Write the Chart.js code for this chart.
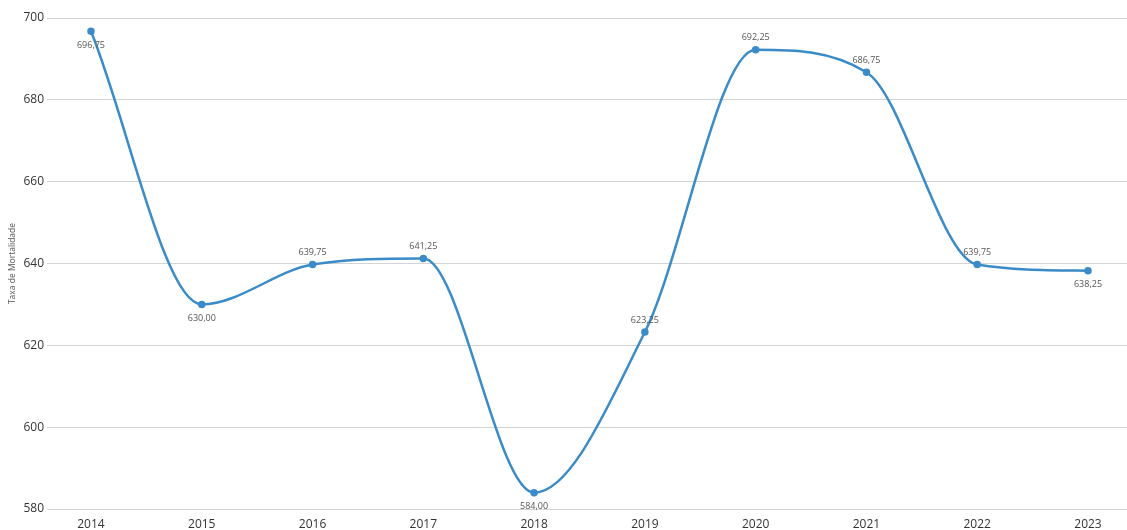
<!DOCTYPE html>
<html>
<head>
<meta charset="utf-8">
<script src="https://cdn.jsdelivr.net/npm/chart.js@4/dist/chart.umd.min.js"></script>
<style>
html,body{margin:0;padding:0;background:#fff;}
canvas{display:block;}
</style>
</head>
<body>
<canvas id="c" width="1127" height="530"></canvas>
<script>
const years = [2014, 2015, 2016, 2017, 2018, 2019, 2020, 2021, 2022, 2023];
const values = [696.75, 630.00, 639.75, 641.25, 584.00, 623.25, 692.25, 686.75, 639.75, 638.25];
const yTicks = [580, 600, 620, 640, 660, 680, 700];
const yTitle = 'Taxa de Mortalidade';

const fmt = v => v.toFixed(2).replace('.', ',');

const labelPlugin = {
  id: 'pointLabels',
  afterDatasetsDraw(chart) {
    const ctx = chart.ctx;
    const meta = chart.getDatasetMeta(0);
    ctx.save();
    ctx.font = '9px "Open Sans", sans-serif';
    ctx.fillStyle = '#555';
    ctx.textAlign = 'center';
    ctx.textBaseline = 'middle';
    meta.data.forEach((pt, i) => {
      const v = values[i];
      const first = i === 0, last = i === values.length - 1;
      const localMin = !first && !last && v < values[i - 1] && v < values[i + 1];
      const below = first || last || localMin;
      ctx.fillText(fmt(v), pt.x, pt.y + (below ? 14 : -12));
    });
    ctx.restore();
  }
};

new Chart(document.getElementById('c'), {
  type: 'line',
  data: {
    datasets: [{
      data: years.map((y, i) => ({x: y, y: values[i]})),
      borderColor: '#3a8bc8',
      backgroundColor: '#3a8bc8',
      borderWidth: 2.5,
      cubicInterpolationMode: 'monotone',
      pointRadius: 2.5,
      pointHoverRadius: 2.5,
      fill: false
    }]
  },
  options: {
    responsive: false,
    animation: false,
    layout: {autoPadding: false, padding: {top: 18, right: 0, bottom: 0, left: 0}},
    plugins: {legend: {display: false}, tooltip: {enabled: false}},
    scales: {
      x: {
        type: 'linear',
        min: 2013.603,
        max: 2023.352,
        afterBuildTicks: s => { s.ticks = years.map(v => ({value: v})); },
        afterFit: s => { s.height = 21; s.paddingLeft = 0; s.paddingRight = 0; },
        grid: {display: false},
        border: {display: false},
        ticks: {
          callback: v => String(v),
          color: '#333',
          font: {family: '"Open Sans", sans-serif', size: 12},
          padding: 0,
          maxRotation: 0,
          autoSkip: false
        }
      },
      y: {
        min: 580,
        max: 700,
        afterBuildTicks: s => { s.ticks = yTicks.map(v => ({value: v})); },
        afterFit: s => { s.width = 47; },
        grid: {color: '#d4d4d4', lineWidth: 1, drawTicks: false},
        border: {display: false},
        ticks: {
          color: '#333',
          font: {family: '"Open Sans", sans-serif', size: 12},
          padding: 3
        },
        title: {
          display: true,
          text: yTitle,
          color: '#555',
          font: {family: '"Open Sans", sans-serif', size: 8.5},
          padding: {top: 7, bottom: 0}
        }
      }
    }
  },
  plugins: [labelPlugin]
});
</script>
</body>
</html>
